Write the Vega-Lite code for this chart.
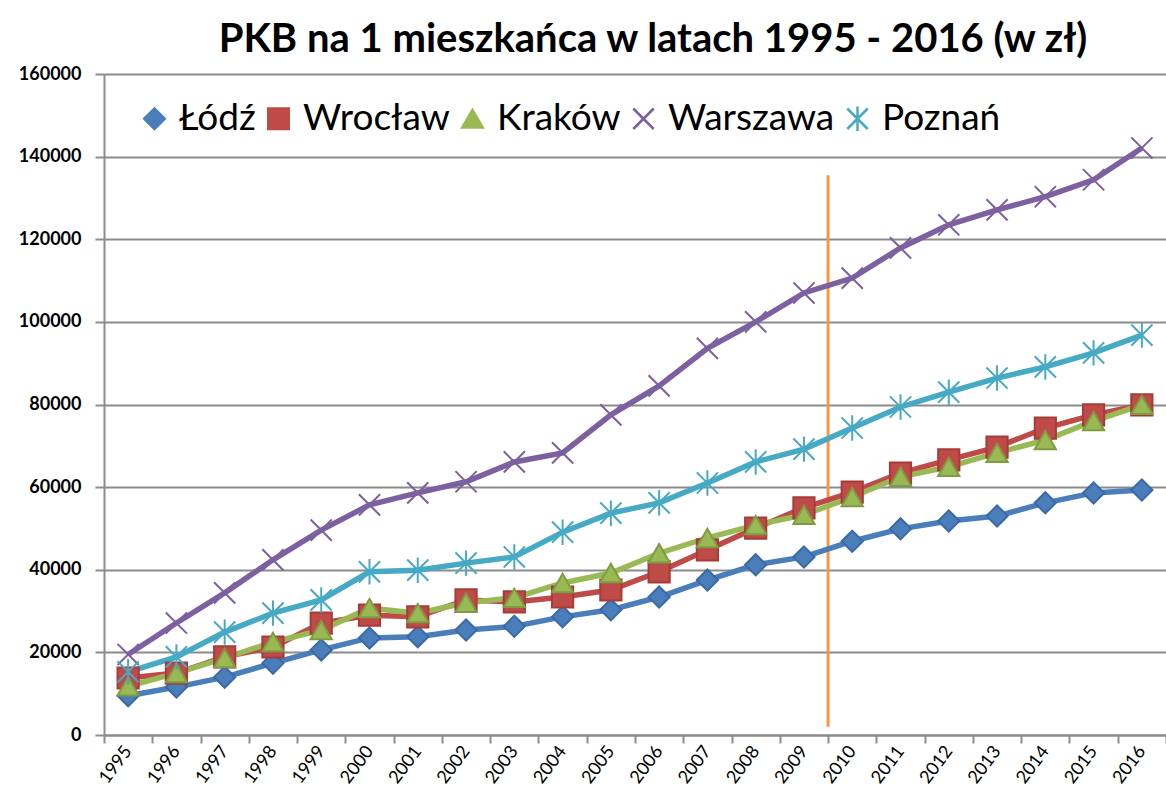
{
  "$schema": "https://vega.github.io/schema/vega-lite/v6.json",
  "width": 1062,
  "height": 661,
  "autosize": {"type": "none"},
  "padding": {"left": 104, "top": 74, "right": 0, "bottom": 63},
  "background": "white",
  "title": {
    "text": "PKB na 1 mieszkańca  w latach 1995 - 2016 (w zł)",
    "font": "Lato",
    "fontSize": 40,
    "fontWeight": "bold",
    "color": "black",
    "anchor": "middle",
    "offset": 5,
    "dx": 18
  },
  "config": {
    "view": {"stroke": null},
    "axis": {
      "domainColor": "#8c8c8c",
      "domainWidth": 2,
      "tickColor": "#8c8c8c",
      "tickWidth": 2,
      "gridColor": "#8c8c8c",
      "gridWidth": 2,
      "labelColor": "black",
      "labelFont": "Lato",
      "title": null
    }
  },
  "datasets": {
    "gdp": [
      {"year": "1995", "Łódź": 9500, "Wrocław": 13800, "Kraków": 11800, "Warszawa": 19500, "Poznań": 15300},
      {"year": "1996", "Łódź": 11600, "Wrocław": 15000, "Kraków": 15000, "Warszawa": 27100, "Poznań": 18900},
      {"year": "1997", "Łódź": 14000, "Wrocław": 18900, "Kraków": 18600, "Warszawa": 34400, "Poznań": 24900},
      {"year": "1998", "Łódź": 17400, "Wrocław": 21300, "Kraków": 22500, "Warszawa": 42400, "Poznań": 29500},
      {"year": "1999", "Łódź": 20600, "Wrocław": 27100, "Kraków": 25400, "Warszawa": 49600, "Poznań": 32700},
      {"year": "2000", "Łódź": 23500, "Wrocław": 29000, "Kraków": 30700, "Warszawa": 55700, "Poznań": 39500},
      {"year": "2001", "Łódź": 23800, "Wrocław": 28600, "Kraków": 29500, "Warszawa": 58600, "Poznań": 39900},
      {"year": "2002", "Łódź": 25400, "Wrocław": 32700, "Kraków": 32000, "Warszawa": 61300, "Poznań": 41600},
      {"year": "2003", "Łódź": 26300, "Wrocław": 32200, "Kraków": 33200, "Warszawa": 66100, "Poznań": 43100},
      {"year": "2004", "Łódź": 28600, "Wrocław": 33400, "Kraków": 36800, "Warszawa": 68300, "Poznań": 49100},
      {"year": "2005", "Łódź": 30300, "Wrocław": 35100, "Kraków": 39200, "Warszawa": 77500, "Poznań": 53700},
      {"year": "2006", "Łódź": 33400, "Wrocław": 39500, "Kraków": 44000, "Warszawa": 84500, "Poznań": 56200},
      {"year": "2007", "Łódź": 37500, "Wrocław": 44800, "Kraków": 47700, "Warszawa": 93600, "Poznań": 61000},
      {"year": "2008", "Łódź": 41200, "Wrocław": 50100, "Kraków": 50800, "Warszawa": 100000, "Poznań": 66100},
      {"year": "2009", "Łódź": 43100, "Wrocław": 55000, "Kraków": 53300, "Warszawa": 107000, "Poznań": 69200},
      {"year": "2010", "Łódź": 46900, "Wrocław": 58800, "Kraków": 57600, "Warszawa": 110600, "Poznań": 74300},
      {"year": "2011", "Łódź": 49900, "Wrocław": 63400, "Kraków": 62500, "Warszawa": 117900, "Poznań": 79400},
      {"year": "2012", "Łódź": 51800, "Wrocław": 66600, "Kraków": 64900, "Warszawa": 123500, "Poznań": 83000},
      {"year": "2013", "Łódź": 53000, "Wrocław": 69700, "Kraków": 68300, "Warszawa": 127100, "Poznań": 86400},
      {"year": "2014", "Łódź": 56200, "Wrocław": 74300, "Kraków": 71400, "Warszawa": 130300, "Poznań": 89100},
      {"year": "2015", "Łódź": 58600, "Wrocław": 77500, "Kraków": 76000, "Warszawa": 134400, "Poznań": 92500},
      {"year": "2016", "Łódź": 59300, "Wrocław": 79900, "Kraków": 79900, "Warszawa": 142100, "Poznań": 96800}
    ],
    "marker": [{"year": "2010", "top": 135500, "bottom": 2000}]
  },
  "encoding": {
    "x": {
      "field": "year",
      "type": "ordinal",
      "scale": {"domain": ["1995","1996","1997","1998","1999","2000","2001","2002","2003","2004","2005","2006","2007","2008","2009","2010","2011","2012","2013","2014","2015","2016"], "paddingInner": 0, "paddingOuter": 0},
      "axis": {"tickBand": "extent", "grid": false, "labelAngle": -53, "labelFontSize": 18, "labelFontWeight": "normal", "tickSize": 8, "labelPadding": 5, "labelAlign": "right", "labelBaseline": "middle"}
    }
  },
  "layer": [
    {
      "data": {"name": "marker"},
      "mark": {"type": "rule", "color": "#F79646", "strokeWidth": 3},
      "encoding": {
        "x": {"field": "year", "type": "ordinal", "bandPosition": 0},
        "y": {"field": "top", "type": "quantitative"},
        "y2": {"field": "bottom"}
      }
    },
    {
      "data": {"name": "gdp"},
      "transform": [{"fold": ["Łódź", "Wrocław", "Kraków", "Warszawa", "Poznań"], "as": ["city", "value"]}],
      "layer": [
        {
          "mark": {"type": "line", "strokeWidth": 5.5},
          "encoding": {
            "y": {"field": "value", "type": "quantitative", "scale": {"domain": [0, 160000], "nice": false}, "axis": {"values": [0,20000,40000,60000,80000,100000,120000,140000,160000], "format": "d", "labelFontSize": 18, "labelFontWeight": "bold", "tickSize": 9, "labelPadding": 14}},
            "color": {"field": "city", "type": "nominal", "sort": null,
              "scale": {"domain": ["Łódź", "Wrocław", "Kraków", "Warszawa", "Poznań"], "range": ["#4A7EBB", "#BE4B48", "#98B954", "#7D60A0", "#46AAC5"]},
              "legend": {
                "title": null, "orient": "none", "legendX": 32, "legendY": 26, "direction": "horizontal",
                "labelFont": "Lato", "labelFontSize": 37, "labelColor": "black", "symbolSize": 420,
                "columnPadding": 4, "labelOffset": 6, "symbolStrokeWidth": 2, "labelLimit": 300,
                "encode": {"symbols": {"update": {"stroke": {"scale": "color", "field": "value"}, "strokeWidth": {"value": 2.5}}}}
              }
            }
          }
        },
        {
          "mark": {"type": "point", "filled": true, "opacity": 1, "strokeWidth": 2},
          "encoding": {
            "y": {"field": "value", "type": "quantitative"},
            "color": {"field": "city", "type": "nominal"},
            "stroke": {"field": "city", "type": "nominal", "legend": null,
              "scale": {"domain": ["Łódź", "Wrocław", "Kraków", "Warszawa", "Poznań"], "range": ["#3a6aa5", "#a53c39", "#7f9c43", "#7D60A0", "#46AAC5"]}},
            "shape": {"field": "city", "type": "nominal",
              "scale": {"domain": ["Łódź", "Wrocław", "Kraków", "Warszawa", "Poznań"], "range": ["diamond", "square", "triangle-up", "M-1,-1L1,1M-1,1L1,-1", "M-1,-1L1,1M-1,1L1,-1M0,-1.2L0,1.2"]}},
            "size": {"value": 450}
          }
        }
      ]
    }
  ]
}
